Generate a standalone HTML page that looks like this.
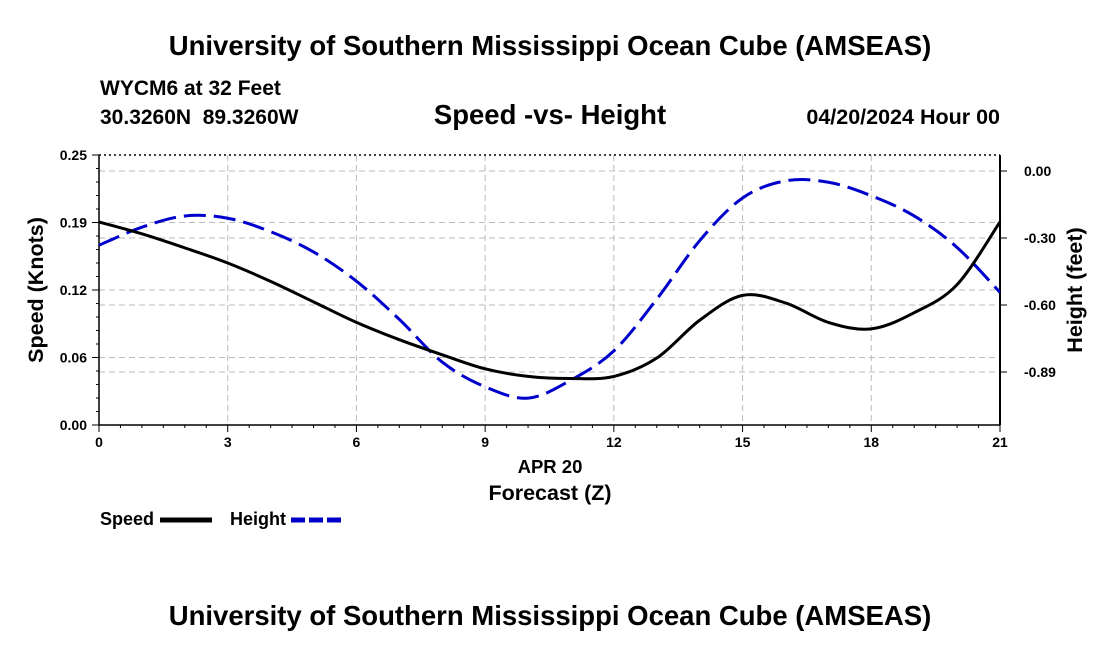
<!DOCTYPE html>
<html><head><meta charset="utf-8"><style>
body{margin:0;background:#fff;}
svg text{font-family:"Liberation Sans",sans-serif;font-weight:bold;fill:#000;}
</style></head><body>
<svg id="c" width="1100" height="650" viewBox="0 0 1100 650" xmlns="http://www.w3.org/2000/svg">
<text x="550" y="55" font-size="27.5" text-anchor="middle">University of Southern Mississippi Ocean Cube (AMSEAS)</text>
<text x="100" y="95" font-size="21">WYCM6 at 32 Feet</text>
<text x="100" y="124" font-size="21" xml:space="preserve">30.3260N  89.3260W</text>
<text x="550" y="124" font-size="27.5" text-anchor="middle">Speed -vs- Height</text>
<text x="1000" y="124" font-size="21.5" text-anchor="end">04/20/2024 Hour 00</text>
<g id="grid"></g>
<g id="axes"></g>
<g id="series"></g>
<text x="550" y="473" font-size="18.5" text-anchor="middle">APR 20</text>
<text x="550" y="500" font-size="21.5" text-anchor="middle">Forecast (Z)</text>
<text transform="translate(43,290) rotate(-90)" font-size="21.5" text-anchor="middle">Speed (Knots)</text>
<text transform="translate(1082,290) rotate(-90)" font-size="21.5" text-anchor="middle">Height (feet)</text>
<g>
<text x="100" y="525" font-size="18">Speed</text>
<line x1="160" y1="520" x2="212" y2="520" stroke="#000" stroke-width="5"/>
<text x="230" y="525" font-size="18">Height</text>
<line x1="291" y1="520" x2="343" y2="520" stroke="#0000cc" stroke-width="5" stroke-dasharray="14,4"/>
</g>
<text x="550" y="625" font-size="27.5" text-anchor="middle">University of Southern Mississippi Ocean Cube (AMSEAS)</text>
</svg>
<script>
const hours=[0,1,2,3,4,5,6,7,8,9,10,11,12,13,14,15,16,17,18,19,20,21];
const speedVals=[0.188,0.177,0.164,0.150,0.133,0.114,0.095,0.079,0.065,0.052,0.045,0.043,0.045,0.062,0.097,0.12,0.113,0.095,0.089,0.104,0.13,0.188];
const heightVals=[-0.33,-0.25,-0.20,-0.21,-0.27,-0.36,-0.49,-0.66,-0.85,-0.96,-1.01,-0.93,-0.80,-0.57,-0.31,-0.12,-0.044,-0.05,-0.11,-0.20,-0.34,-0.54];
const xTicks=[0,3,6,9,12,15,18,21];
const speedTicks=[0,0.0625,0.125,0.1875,0.25];
const speedTickLabels=["0.00","0.06","0.12","0.19","0.25"];
const heightTicks=[0,-0.298,-0.596,-0.894];
const heightTickLabels=["0.00","-0.30","-0.60","-0.89"];
const L=99,R=1000,T=155,B=425;
const X=h=>L+(h-0)/21*(R-L);
const YS=v=>B-v/0.25*(B-T);
const YH=v=>171-v/0.298*67;
const NS="http://www.w3.org/2000/svg";
function mk(tag,parent,attrs){const e=document.createElementNS(NS,tag);for(const k in attrs)e.setAttribute(k,attrs[k]);document.getElementById(parent).appendChild(e);return e;}
xTicks.forEach(h=>{if(h>0&&h<21){const g=mk('line','grid',{x1:X(h),x2:X(h),y1:T,y2:B,stroke:'#bbb','stroke-dasharray':'6,4'});

}});
speedTicks.forEach(v=>{if(v>0&&v<0.25){const g=mk('line','grid',{x1:L,x2:R,y1:YS(v),y2:YS(v),stroke:'#bbb','stroke-dasharray':'6,4'});

}});
heightTicks.forEach(v=>{const g=mk('line','grid',{x1:L,x2:R,y1:YH(v),y2:YH(v),stroke:'#bbb','stroke-dasharray':'6,4'});

});
let a=mk('line','axes',{x1:L,x2:L,y1:T,y2:B,stroke:'#000','stroke-width':1.5});


a=mk('line','axes',{x1:R,x2:R,y1:T,y2:B,stroke:'#000','stroke-width':2});


a=mk('line','axes',{x1:L,x2:R,y1:B,y2:B,stroke:'#000','stroke-width':1.5});


a=mk('line','axes',{x1:L,x2:R,y1:T,y2:T,stroke:'#000','stroke-width':1.5,'stroke-dasharray':'2,3'});


for(let h=0;h<=21;h+=0.5){const t=mk('line','axes',{x1:X(h),x2:X(h),y1:B,y2:B+(h%3===0?7:3),stroke:'#000'});

}
xTicks.forEach(h=>{const t=mk('text','axes',{x:X(h),y:B+22,'font-size':14,'text-anchor':'middle'});t.textContent=h;

});
for(let v=0;v<=0.2501;v+=0.0125){const t=mk('line','axes',{x1:L-(Math.abs(v/0.0625-Math.round(v/0.0625))<0.01?7:3),x2:L,y1:YS(v),y2:YS(v),stroke:'#000'});

}
speedTicks.forEach((v,i)=>{const t=mk('text','axes',{x:L-12,y:YS(v)+5,'font-size':14,'text-anchor':'end'});t.textContent=speedTickLabels[i];

});
heightTicks.forEach((v,i)=>{const t=mk('line','axes',{x1:R,x2:R+7,y1:YH(v),y2:YH(v),stroke:'#000'});


const l=mk('text','axes',{x:R+24,y:YH(v)+5,'font-size':14});l.textContent=heightTickLabels[i];

});
function curve(xs,ys){const p=xs.map((x,i)=>[x,ys[i]]);let d='M'+p[0][0]+','+p[0][1];
for(let i=0;i<p.length-1;i++){const p0=p[Math.max(0,i-1)],p1=p[i],p2=p[i+1],p3=p[Math.min(p.length-1,i+2)];
d+=' C'+(p1[0]+(p2[0]-p0[0])/6)+','+(p1[1]+(p2[1]-p0[1])/6)+' '+(p2[0]-(p3[0]-p1[0])/6)+','+(p2[1]-(p3[1]-p1[1])/6)+' '+p2[0]+','+p2[1];}return d;}
const hs=mk('path','series',{d:curve(hours.map(X),heightVals.map(YH)),fill:'none',stroke:'#0000cc','stroke-width':3,'stroke-dasharray':'22,8'});


const ss=mk('path','series',{d:curve(hours.map(X),speedVals.map(YS)),fill:'none',stroke:'#000','stroke-width':3});


</script>
</body></html>
